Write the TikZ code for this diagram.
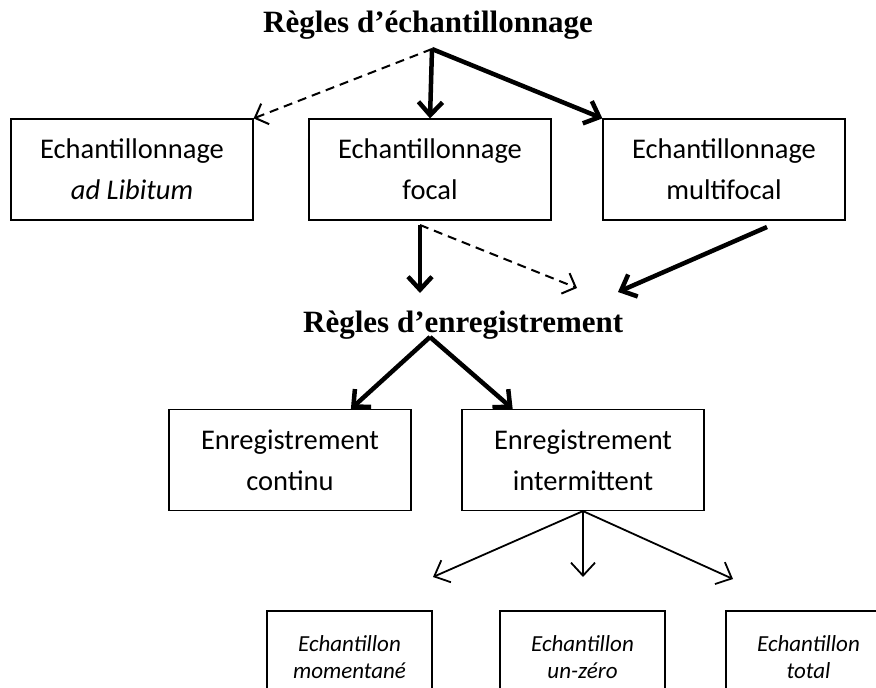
\documentclass[tikz,border=0pt]{standalone}
\usepackage{fontspec}
\setmainfont{Liberation Serif}
\newfontfamily\calib{Carlito}
\usepackage{tikz}
\usetikzlibrary{arrows.meta,positioning}
\tikzstyle{rule} = [font=\fontsize{31}{36}\selectfont\bfseries, anchor=base west, inner sep=0pt]
\tikzstyle{choice} = [rectangle, draw=black, line width=1.2pt, minimum width=242pt, minimum height=101pt, inner sep=0pt, align=center, font=\calib\fontsize{28.5}{41}\selectfont]
\tikzstyle{sample} = [rectangle, draw=black, line width=1.2pt, minimum width=165pt, minimum height=92pt, inner sep=0pt, align=center, font=\calib\itshape\fontsize{23}{26.5}\selectfont]
\tikzstyle{heavy} = [line width=4.5pt, -{Straight Barb[length=13pt,width=24pt]}]
\tikzstyle{dashy} = [line width=2pt, dash pattern=on 9pt off 6pt, -{Straight Barb[length=11pt,width=22pt]}]
\tikzstyle{light} = [line width=1.8pt, -{Straight Barb[length=13pt,width=24pt]}]

\begin{document}
\begin{tikzpicture}[x=1pt,y=-1pt]
		\useasboundingbox (0,0) rectangle (876,688);
		\clip (0,0) rectangle (876,688);
		\coordinate (adlib) at (132,169.5);
		\coordinate (focal) at (430,169.5);
		\coordinate (multifocal) at (724,169.5);
		\coordinate (continu) at (290,460);
		\coordinate (intermittent) at (583,460);
		\coordinate (momentane) at (349.5,657);
		\coordinate (unzero) at (582.5,657);
		\coordinate (total) at (808.5,657);
		% free ends
		\coordinate (echroot) at (432,49);
		\coordinate (enrroot) at (430,337);
		\coordinate (focalout) at (420,225);
		\coordinate (multiout) at (767,227);
		\coordinate (focaldown) at (420,293);
		\coordinate (focalside) at (577,288);
		\coordinate (multidown) at (618,292);
		\coordinate (momtip) at (433,577);
		\coordinate (zerotip) at (583,577);
		\coordinate (totaltip) at (733,579);
		% Titles
		\node[rule, name=echtitle] at (263,32) {Règles d’échantillonnage};
		\node[rule, name=enrtitle] at (303,332) {Règles d’enregistrement};
		% Sampling rules
		\begin{scope}[every node/.style={choice}]
		\node[name=adlib] at (adlib) {Echantillonnage\\\textit{ad Libitum}};
		\node[name=focal] at (focal) {Echantillonnage\\focal};
		\node[name=multifocal] at (multifocal) {Echantillonnage\\multifocal};
		\end{scope}
		% Recording rules
		\begin{scope}[every node/.style={choice}]
		\node[name=continu] at (continu) {Enregistrement\\continu};
		\node[name=intermittent] at (intermittent) {Enregistrement\\intermittent};
		\end{scope}
		% Samples
		\begin{scope}[every node/.style={sample}]
		\node[name=momentane] at (momentane) {Echantillon\\momentané};
		\node[name=unzero] at (unzero) {Echantillon\\un-zéro};
		\node[name=total] at (total) {Echantillon\\total};
		\end{scope}
		\draw [dashy] (echroot)--(adlib.north east);
		\draw [heavy] (echroot)--(focal.north);
		\draw [heavy] (echroot)--(multifocal.north west);
		\draw [heavy] (focalout)--(focaldown);
		\draw [dashy] (focalout)--(focalside);
		\draw [heavy] (multiout)--(multidown);
		\draw [heavy] (enrroot)--(continu.40);
		\draw [heavy] (enrroot)--(intermittent.144);
		\draw [light] (intermittent.south)--(momtip);
		\draw [light] (intermittent.south)--(zerotip);
		\draw [light] (intermittent.south)--(totaltip);
\end{tikzpicture}
\end{document}
